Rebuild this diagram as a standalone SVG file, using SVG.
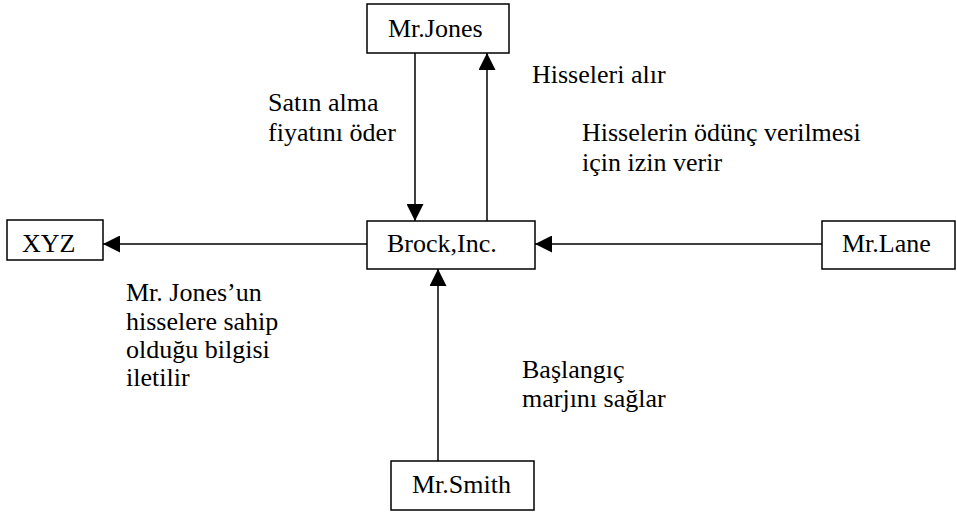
<svg xmlns="http://www.w3.org/2000/svg" width="957" height="513" viewBox="0 0 957 513">
  <style>
    .box { fill: #fff; stroke: #000; stroke-width: 1.5; }
    .name { font-family: "Liberation Serif", "Times New Roman", serif; font-size: 26px; fill: #000; }
    .lbl { font-family: "Liberation Serif", "Times New Roman", serif; font-size: 26px; fill: #000; }
    .edge { stroke: #000; stroke-width: 1.5; fill: none; marker-end: url(#tip); }
  </style>
  <defs>
    <!-- filled triangular arrowhead shared by every connector -->
    <marker id="tip" viewBox="0 0 17 17" refX="17" refY="8.5" markerWidth="17" markerHeight="17" markerUnits="userSpaceOnUse" orient="auto">
      <path d="M0,0 L17,8.5 L0,17 Z" fill="#000"/>
    </marker>
  </defs>
  <rect width="957" height="513" fill="#fff"/>

  <g id="connectors">
    <line class="edge" x1="415" y1="53" x2="415" y2="221"/>
    <line class="edge" x1="487" y1="221" x2="487" y2="53"/>
    <line class="edge" x1="367" y1="244" x2="103" y2="244"/>
    <line class="edge" x1="822" y1="244" x2="535" y2="244"/>
    <line class="edge" x1="438" y1="461" x2="438" y2="269"/>
  </g>

  <g id="mr-jones">
    <rect class="box" x="367" y="4" width="142" height="49"/>
    <text class="name" x="388" y="37">Mr.Jones</text>
  </g>
  <g id="brock">
    <rect class="box" x="367" y="221" width="168" height="48"/>
    <text class="name" x="387" y="252">Brock,Inc.</text>
  </g>
  <g id="xyz">
    <rect class="box" x="7" y="220" width="96" height="40"/>
    <text class="name" x="22" y="252">XYZ</text>
  </g>
  <g id="mr-lane">
    <rect class="box" x="822" y="221" width="133" height="48"/>
    <text class="name" x="842" y="252">Mr.Lane</text>
  </g>
  <g id="mr-smith">
    <rect class="box" x="391" y="461" width="143" height="49"/>
    <text class="name" x="412" y="493">Mr.Smith</text>
  </g>

  <g id="labels">
    <text class="lbl" x="268" y="111">Satın alma</text>
    <text class="lbl" x="268" y="141">fiyatını öder</text>
    <text class="lbl" x="532" y="83">Hisseleri alır</text>
    <text class="lbl" x="582" y="141">Hisselerin ödünç verilmesi</text>
    <text class="lbl" x="582" y="171">için izin verir</text>
    <text class="lbl" x="126" y="301">Mr. Jones’un</text>
    <text class="lbl" x="126" y="330">hisselere sahip</text>
    <text class="lbl" x="126" y="358">olduğu bilgisi</text>
    <text class="lbl" x="126" y="386">iletilir</text>
    <text class="lbl" x="522" y="378">Başlangıç</text>
    <text class="lbl" x="522" y="407">marjını sağlar</text>
  </g>
</svg>
